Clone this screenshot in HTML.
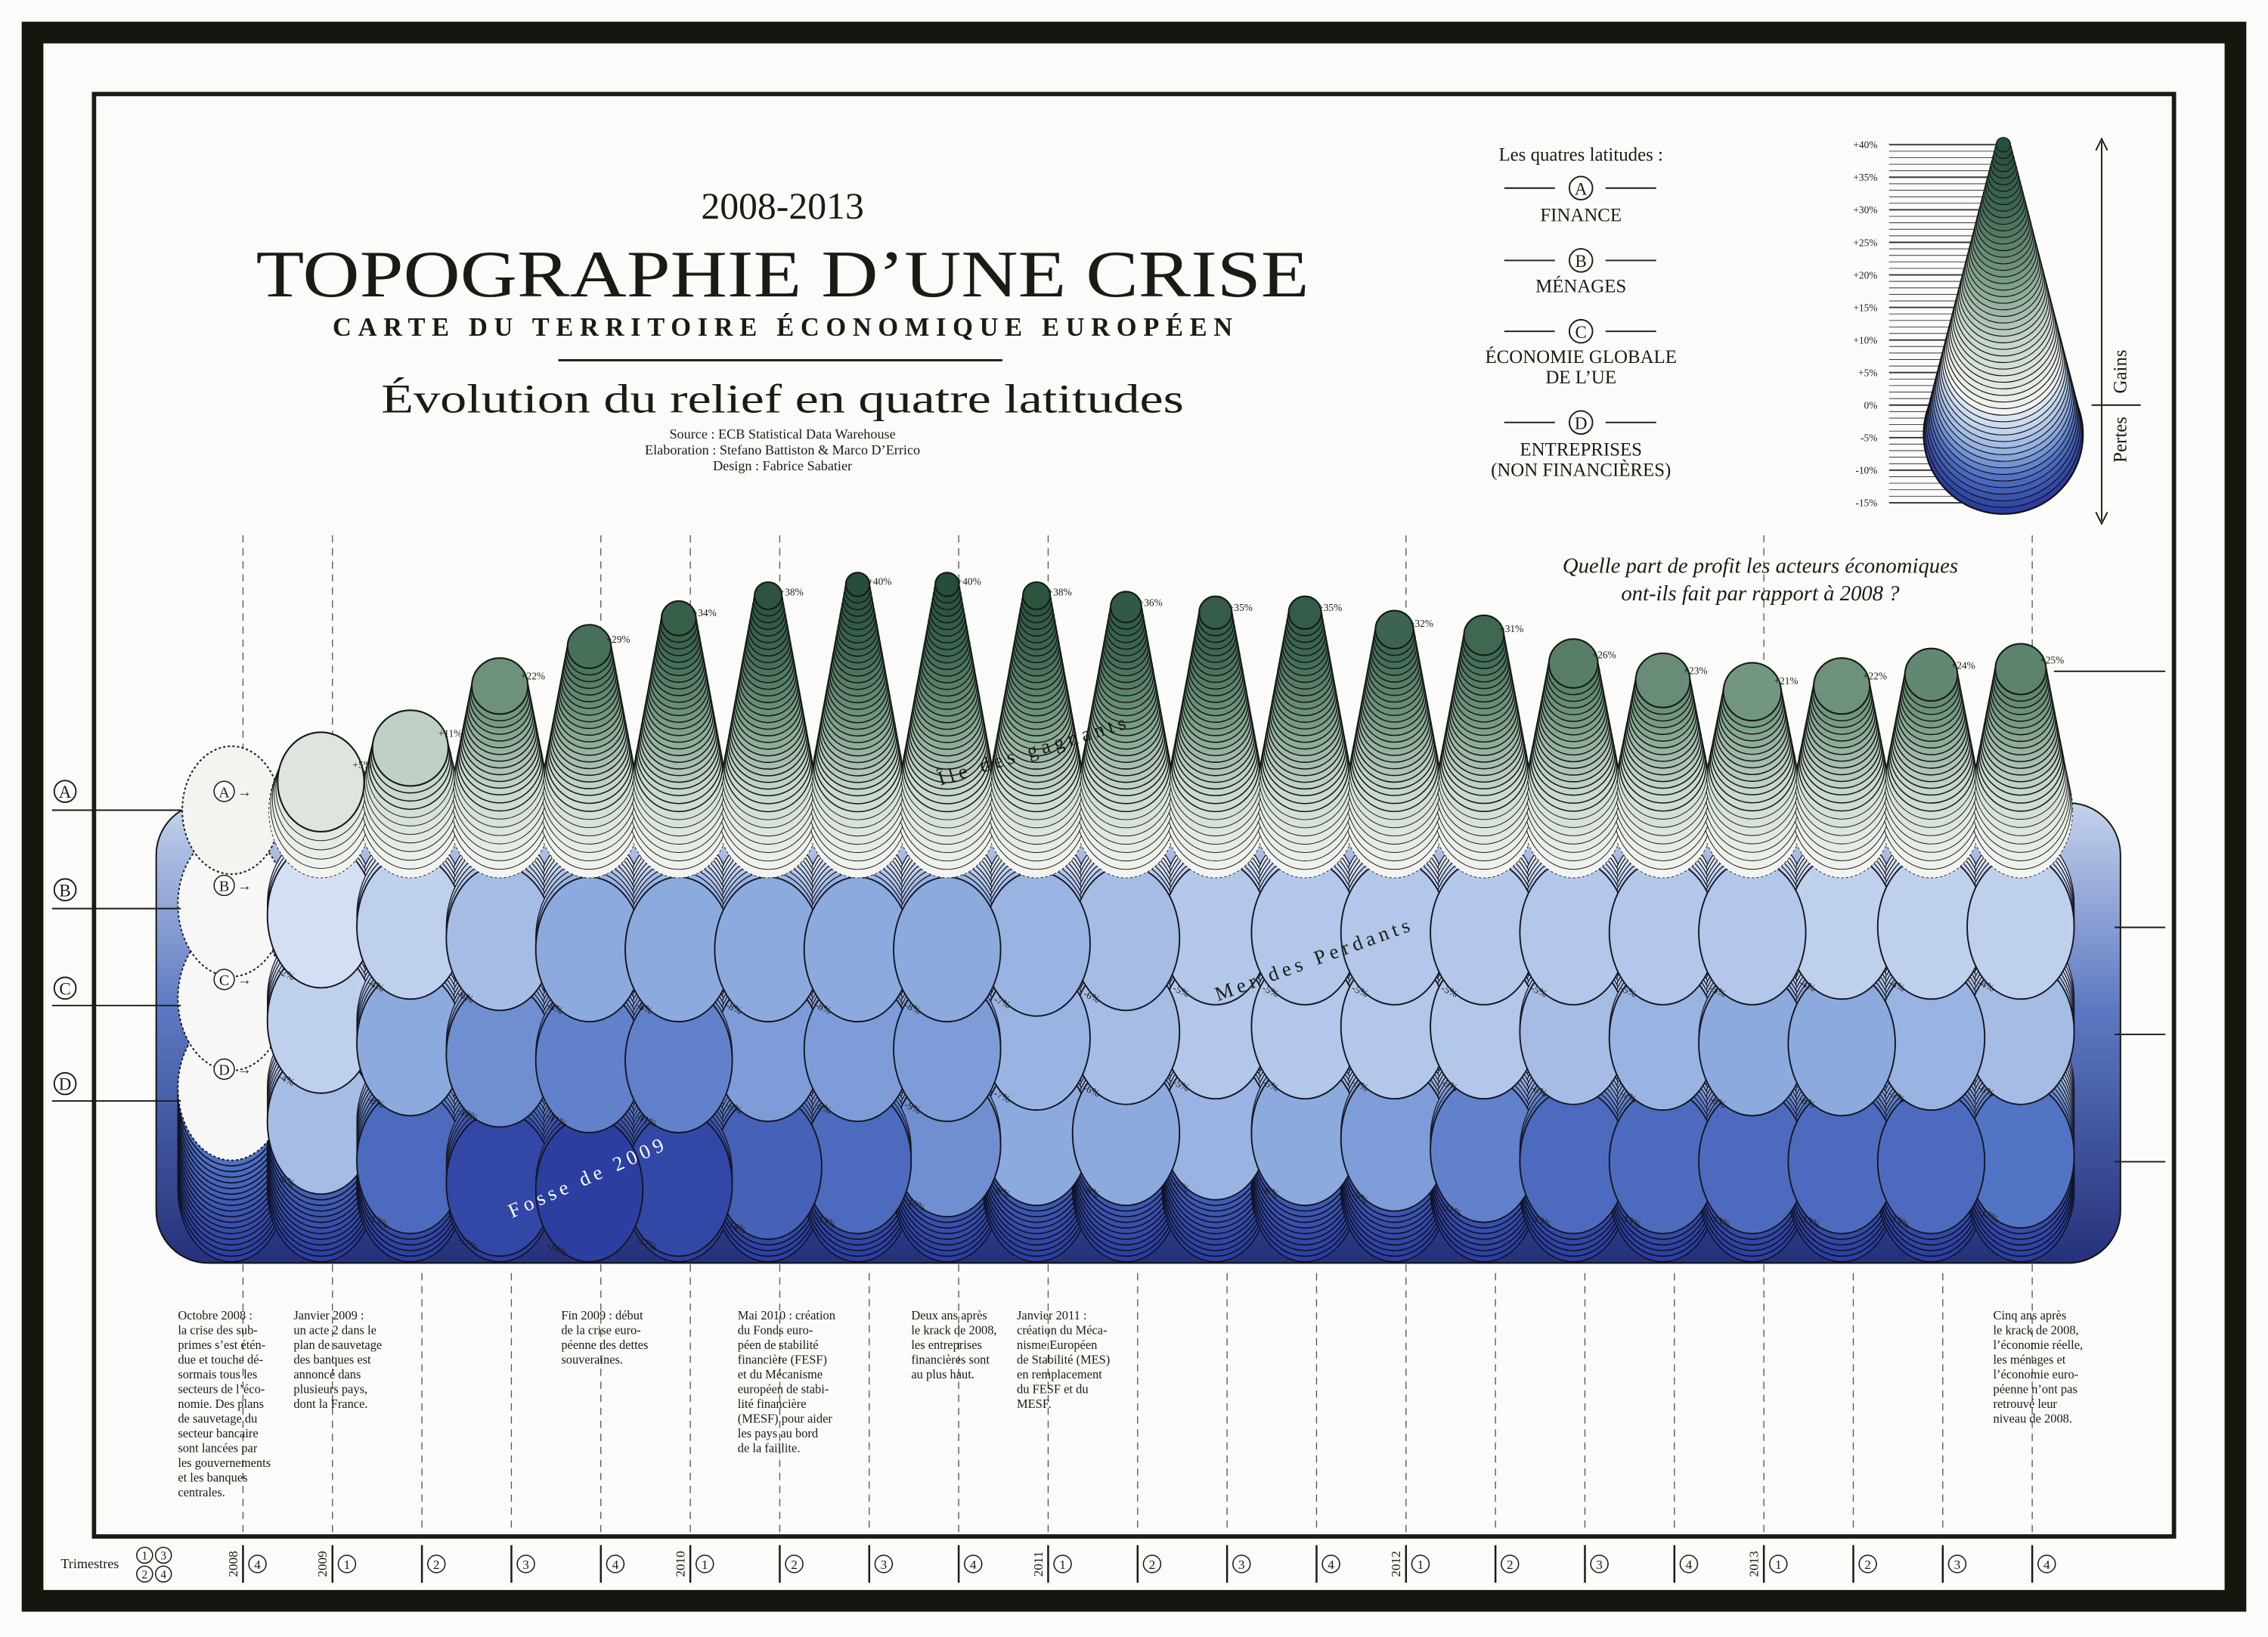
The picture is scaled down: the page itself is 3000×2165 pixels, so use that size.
<!DOCTYPE html>
<html><head><meta charset="utf-8">
<style>
html,body{margin:0;padding:0;background:#fff;}
svg{display:block;}
text{font-family:"Liberation Serif",serif;fill:#1b1b14;}
</style></head>
<body>
<svg id="chart" xmlns="http://www.w3.org/2000/svg" width="3000" height="2165" viewBox="0 0 1568 1131.5" preserveAspectRatio="none">
  <defs>
    <linearGradient id="wallGrad" x1="0" y1="0" x2="0" y2="1">
      <stop offset="0" stop-color="#c4d2ec"/>
      <stop offset="0.45" stop-color="#5d78c2"/>
      <stop offset="1" stop-color="#25317a"/>
    </linearGradient>
  </defs>
  <rect x="0" y="0" width="1568" height="1131.5" fill="#fbfbf9"/>
  <rect x="22.5" y="22.5" width="1523" height="1084" fill="none" stroke="#16160f" stroke-width="15"/>
  <rect x="65" y="65" width="1438" height="997" fill="none" stroke="#1b1b14" stroke-width="3"/>

  <g text-anchor="middle">
    <text x="541" y="151" font-size="26">2008-2013</text>
    <text x="541" y="205" font-size="46" textLength="728" lengthAdjust="spacingAndGlyphs">TOPOGRAPHIE D’UNE CRISE</text>
    <text x="541" y="232" font-size="18" font-weight="bold" textLength="622" lengthAdjust="spacing">CARTE DU TERRITOIRE ÉCONOMIQUE EUROPÉEN</text>
    <line x1="386" y1="249" x2="693" y2="249" stroke="#1b1b14" stroke-width="1.5"/>
    <text x="541" y="285" font-size="28" textLength="555" lengthAdjust="spacingAndGlyphs">Évolution du relief en quatre latitudes</text>
    <text x="541" y="303" font-size="9.5">Source : ECB Statistical Data Warehouse</text>
    <text x="541" y="314" font-size="9.5">Elaboration : Stefano Battiston &amp; Marco D’Errico</text>
    <text x="541" y="325" font-size="9.5">Design : Fabrice Sabatier</text>
  </g>

  <g text-anchor="middle" font-size="13">
    <text x="1093" y="111">Les quatres latitudes :</text>
    <g>
      <line x1="1040" y1="130" x2="1075" y2="130" stroke="#1b1b14"/><line x1="1110" y1="130" x2="1145" y2="130" stroke="#1b1b14"/>
      <circle cx="1093" cy="130" r="8" fill="none" stroke="#1b1b14"/><text x="1093" y="134.5" font-size="12">A</text>
      <text x="1093" y="153">FINANCE</text>
    </g>
    <g>
      <line x1="1040" y1="180" x2="1075" y2="180" stroke="#1b1b14"/><line x1="1110" y1="180" x2="1145" y2="180" stroke="#1b1b14"/>
      <circle cx="1093" cy="180" r="8" fill="none" stroke="#1b1b14"/><text x="1093" y="184.5" font-size="12">B</text>
      <text x="1093" y="202">MÉNAGES</text>
    </g>
    <g>
      <line x1="1040" y1="229" x2="1075" y2="229" stroke="#1b1b14"/><line x1="1110" y1="229" x2="1145" y2="229" stroke="#1b1b14"/>
      <circle cx="1093" cy="229" r="8" fill="none" stroke="#1b1b14"/><text x="1093" y="233.5" font-size="12">C</text>
      <text x="1093" y="251">ÉCONOMIE GLOBALE</text>
      <text x="1093" y="265">DE L’UE</text>
    </g>
    <g>
      <line x1="1040" y1="292" x2="1075" y2="292" stroke="#1b1b14"/><line x1="1110" y1="292" x2="1145" y2="292" stroke="#1b1b14"/>
      <circle cx="1093" cy="292" r="8" fill="none" stroke="#1b1b14"/><text x="1093" y="296.5" font-size="12">D</text>
      <text x="1093" y="315">ENTREPRISES</text>
      <text x="1093" y="329">(NON FINANCIÈRES)</text>
    </g>
  </g>

  <g id="scale-legend"></g>
  <g>
    <line x1="1453" y1="98" x2="1453" y2="360" stroke="#1b1b14" stroke-width="1"/>
    <path d="M1449,104 L1453,96 L1457,104 M1449,354 L1453,362 L1457,354" fill="none" stroke="#1b1b14"/>
    <line x1="1446" y1="280" x2="1480" y2="280" stroke="#1b1b14"/>
    <text transform="translate(1470,272) rotate(-90)" font-size="13" text-anchor="start">Gains</text>
    <text transform="translate(1470,288) rotate(-90)" font-size="13" text-anchor="end">Pertes</text>
  </g>

  <g text-anchor="middle" font-style="italic" font-size="15">
    <text x="1217" y="396">Quelle part de profit les acteurs économiques</text>
    <text x="1217" y="415">ont-ils fait par rapport à 2008 ?</text>
  </g>

  <g id="gridlines"></g>
  <g id="marks"></g>
  <g id="labels"></g>

  <g font-size="12" text-anchor="middle">
    <g><circle cx="45" cy="547" r="7.5" fill="#fff" stroke="#1b1b14"/><text x="45" y="551.5">A</text><line x1="36" y1="560" x2="125" y2="560" stroke="#1b1b14"/></g>
    <g><circle cx="45" cy="615" r="7.5" fill="#fff" stroke="#1b1b14"/><text x="45" y="619.5">B</text><line x1="36" y1="628" x2="125" y2="628" stroke="#1b1b14"/></g>
    <g><circle cx="45" cy="683" r="7.5" fill="#fff" stroke="#1b1b14"/><text x="45" y="687.5">C</text><line x1="36" y1="695" x2="125" y2="695" stroke="#1b1b14"/></g>
    <g><circle cx="45" cy="749" r="7.5" fill="#fff" stroke="#1b1b14"/><text x="45" y="753.5">D</text><line x1="36" y1="761" x2="125" y2="761" stroke="#1b1b14"/></g>
    <line x1="1420" y1="464" x2="1497" y2="464" stroke="#1b1b14"/>
    <line x1="1462" y1="641" x2="1497" y2="641" stroke="#1b1b14"/>
    <line x1="1462" y1="715" x2="1497" y2="715" stroke="#1b1b14"/>
    <line x1="1462" y1="803" x2="1497" y2="803" stroke="#1b1b14"/>
  </g>

  <g font-size="14" letter-spacing="3">
    <text transform="translate(650,543) rotate(-17)">Île des gagnants</text>
    <text transform="translate(842,692) rotate(-20)">Mer des Perdants</text>
    <text transform="translate(354,842) rotate(-24)" style="fill:#fff">Fosse de 2009</text>
  </g>

  <g font-size="8.6">
    <text x="123" y="912">
      <tspan x="123" dy="0">Octobre 2008 :</tspan><tspan x="123" dy="10.2">la crise des sub-</tspan><tspan x="123" dy="10.2">primes s’est étén-</tspan><tspan x="123" dy="10.2">due et touche dé-</tspan><tspan x="123" dy="10.2">sormais tous les</tspan><tspan x="123" dy="10.2">secteurs de l’éco-</tspan><tspan x="123" dy="10.2">nomie. Des plans</tspan><tspan x="123" dy="10.2">de sauvetage du</tspan><tspan x="123" dy="10.2">secteur bancaire</tspan><tspan x="123" dy="10.2">sont lancées par</tspan><tspan x="123" dy="10.2">les gouvernements</tspan><tspan x="123" dy="10.2">et les banques</tspan><tspan x="123" dy="10.2">centrales.</tspan>
    </text>
    <text x="203" y="912">
      <tspan x="203" dy="0">Janvier 2009 :</tspan><tspan x="203" dy="10.2">un acte 2 dans le</tspan><tspan x="203" dy="10.2">plan de sauvetage</tspan><tspan x="203" dy="10.2">des banques est</tspan><tspan x="203" dy="10.2">annoncé dans</tspan><tspan x="203" dy="10.2">plusieurs pays,</tspan><tspan x="203" dy="10.2">dont la France.</tspan>
    </text>
    <text x="388" y="912">
      <tspan x="388" dy="0">Fin 2009 : début</tspan><tspan x="388" dy="10.2">de la crise euro-</tspan><tspan x="388" dy="10.2">péenne des dettes</tspan><tspan x="388" dy="10.2">souveraines.</tspan>
    </text>
    <text x="510" y="912">
      <tspan x="510" dy="0">Mai 2010 : création</tspan><tspan x="510" dy="10.2">du Fonds euro-</tspan><tspan x="510" dy="10.2">péen de stabilité</tspan><tspan x="510" dy="10.2">financière (FESF)</tspan><tspan x="510" dy="10.2">et du Mécanisme</tspan><tspan x="510" dy="10.2">européen de stabi-</tspan><tspan x="510" dy="10.2">lité financière</tspan><tspan x="510" dy="10.2">(MESF) pour aider</tspan><tspan x="510" dy="10.2">les pays au bord</tspan><tspan x="510" dy="10.2">de la faillite.</tspan>
    </text>
    <text x="630" y="912">
      <tspan x="630" dy="0">Deux ans après</tspan><tspan x="630" dy="10.2">le krack de 2008,</tspan><tspan x="630" dy="10.2">les entreprises</tspan><tspan x="630" dy="10.2">financières sont</tspan><tspan x="630" dy="10.2">au plus haut.</tspan>
    </text>
    <text x="703" y="912">
      <tspan x="703" dy="0">Janvier 2011 :</tspan><tspan x="703" dy="10.2">création du Méca-</tspan><tspan x="703" dy="10.2">nisme Européen</tspan><tspan x="703" dy="10.2">de Stabilité (MES)</tspan><tspan x="703" dy="10.2">en remplacement</tspan><tspan x="703" dy="10.2">du FESF et du</tspan><tspan x="703" dy="10.2">MESF.</tspan>
    </text>
    <text x="1378" y="912">
      <tspan x="1378" dy="0">Cinq ans après</tspan><tspan x="1378" dy="10.2">le krack de 2008,</tspan><tspan x="1378" dy="10.2">l’économie réelle,</tspan><tspan x="1378" dy="10.2">les ménages et</tspan><tspan x="1378" dy="10.2">l’économie euro-</tspan><tspan x="1378" dy="10.2">péenne n’ont pas</tspan><tspan x="1378" dy="10.2">retrouvé leur</tspan><tspan x="1378" dy="10.2">niveau de 2008.</tspan>
    </text>
  </g>

  <g id="axis">
    <text x="42" y="1084" font-size="9.5">Trimestres</text>
    <g font-size="8" text-anchor="middle">
      <circle cx="100" cy="1075" r="5.5" fill="none" stroke="#1b1b14" stroke-width="0.8"/><text x="100" y="1078">1</text>
      <circle cx="113" cy="1075" r="5.5" fill="none" stroke="#1b1b14" stroke-width="0.8"/><text x="113" y="1078">3</text>
      <circle cx="100" cy="1088" r="5.5" fill="none" stroke="#1b1b14" stroke-width="0.8"/><text x="100" y="1091">2</text>
      <circle cx="113" cy="1088" r="5.5" fill="none" stroke="#1b1b14" stroke-width="0.8"/><text x="113" y="1091">4</text>
    </g>
  </g>
</svg>
<script>
const quarterYears = [2008,2009,2009,2009,2009,2010,2010,2010,2010,2011,2011,2011,2011,2012,2012,2012,2012,2013,2013,2013,2013];
const quarterNums  = [4,1,2,3,4,1,2,3,4,1,2,3,4,1,2,3,4,1,2,3,4];
const finance     = [0,5,11,22,29,34,38,40,40,38,36,35,35,32,31,26,23,21,22,24,25];
const menages     = [0,-2,-4,-6,-8,-8,-8,-8,-8,-7,-6,-5,-5,-5,-5,-5,-5,-5,-4,-4,-4];
const economie    = [0,-4,-8,-10,-11,-11,-9,-9,-9,-7,-6,-5,-5,-5,-5,-6,-7,-8,-8,-7,-6];
const entreprises = [0,-6,-13,-17,-18,-17,-14,-13,-10,-8,-8,-7,-8,-9,-11,-13,-13,-13,-13,-13,-12];
const scaleTicks  = [40,35,30,25,20,15,10,5,0,-5,-10,-15];

const NS = 'http://www.w3.org/2000/svg';
function mk(tag, attrs){ const el = document.createElementNS(NS, tag); for (const k in attrs) el.setAttribute(k, attrs[k]); return el; }
const marks = document.getElementById('marks');
const labels = document.getElementById('labels');
const grid = document.getElementById('gridlines');
const axis = document.getElementById('axis');
const legend = document.getElementById('scale-legend');

const x0 = 160, dx = 61.85, K = 3.9;
function xCol(i){ return x0 + i*dx; }
function xBar(i){ return 168 + i*61.85; }
const rowBase = {A:560, B:625, C:690, D:752};
function yElev(row, e){ return rowBase[row] - e*K; }

function lerpColor(stops, t){
  t = Math.max(0, Math.min(stops[stops.length-1][0], t));
  for (let i=0;i<stops.length-1;i++){
    const a=stops[i], b=stops[i+1];
    if (t<=b[0]){ const f=(t-a[0])/(b[0]-a[0]);
      const c=[0,1,2].map(j=>Math.round(a[1][j]+(b[1][j]-a[1][j])*f));
      return 'rgb('+c.join(',')+')'; }
  }
  const l=stops[stops.length-1][1]; return 'rgb('+l.join(',')+')';
}
const greenStops = [[0,[243,244,240]],[10,[200,214,204]],[20,[120,155,133]],[30,[66,106,85]],[40,[38,78,58]]];
const blueStops  = [[0,[232,238,247]],[4,[190,208,236]],[8,[140,170,222]],[12,[82,116,196]],[18,[44,62,160]]];

const fullLines = [0,1,4,5,6,8,9,13,17,20];
for (let i=0;i<quarterYears.length;i++){
  const top = fullLines.includes(i) ? 370 : 880;
  const l = mk('line',{x1:xBar(i),y1:top,x2:xBar(i),y2:1060,stroke:'#555',"stroke-width":0.7,"stroke-dasharray":'5,4'});
  
  
  grid.appendChild(l);
}

// side walls
const slab = mk('rect',{x:108,y:555,width:1358,height:318,rx:36,fill:'url(#wallGrad)',stroke:'#111',"stroke-width":1});


marks.appendChild(slab);

const RX = 37, RY = 50;
// base stack under row D: dark bottom layers down to the floor
const floorDepth = 18;
entreprises.forEach((v,i)=>{
  for (let d=floorDepth; d>-v; d--){
    const c = mk('ellipse',{cx:xCol(i),cy:rowBase.D+d*K,rx:RX,ry:RY,
      fill: lerpColor(blueStops, 12 + d/3), stroke:'#10142a', "stroke-width":0.9});
    
    
    marks.appendChild(c);
  }
});

const negRows = [['D',entreprises],['C',economie],['B',menages]];
negRows.forEach(([row, vals])=>{
  const maxD = Math.max(...vals.map(v=>-v));
  for (let d=0; d<=maxD; d++){
    vals.forEach((v,i)=>{
      const depth = -v;
      if (d>depth) return;
      const isFace = d===depth;
      const c = mk('ellipse',{cx:xCol(i),cy:rowBase[row]+d*K,rx:RX,ry:RY,
        fill: depth===0 ? '#f7f7f5' : lerpColor(blueStops,d),
        stroke: isFace ? '#151520' : '#1b1b2a',
        "stroke-width": isFace ? 1 : 0.7});
      if (depth===0) c.setAttribute('stroke-dasharray','1.6,1.6');
      
      
      marks.appendChild(c);
    });
  }
  vals.forEach((v,i)=>{
    if (v===0) return;
    const lx = xCol(i)-30, ly = rowBase[row]-v*K+40;
    const t = mk('text',{x:lx,y:ly,"font-size":7,transform:'rotate(25 '+lx+' '+ly+')'});
    t.textContent = v+'%';
    
    
    labels.appendChild(t);
  });
});

const maxA = Math.max(...finance);
function radiusA(v, e){ const r0=36, rTop = 33 - v*0.62; return v===0 ? 34 : r0 - (r0-rTop)*(e/v); }
for (let e=0; e<=maxA; e++){
  finance.forEach((v,i)=>{
    if (e>v) return;
    const isCap = e===v;
    const r = radiusA(v,e);
    const c = mk('ellipse',{cx:xCol(i),cy:yElev('A',e),rx:r,ry:r*(1.3-0.3*Math.min(1,e/10)),
      fill: lerpColor(greenStops,e),
      stroke: e===0 ? '#222' : '#141a16',
      "stroke-width": isCap ? 1.1 : (e<8 ? 0.5 : 0.8)});
    if (e===0) c.setAttribute('stroke-dasharray','1.6,1.6');
    
    
    marks.appendChild(c);
  });
}
finance.forEach((v,i)=>{
  if (v===0) return;
  const r = radiusA(v,v);
  const tx = xCol(i)+r*0.7+1, ty = yElev('A',v)-r*0.45+4;
  const t = mk('text',{x:tx,y:ty,"font-size":7});
  t.textContent = '+'+v+'%';
  
  
  labels.appendChild(t);
});

['A','B','C','D'].forEach(row=>{
  const cy = rowBase[row]-13;
  const c = mk('circle',{cx:xCol(0)-5,cy:cy,r:7,fill:'#fff',stroke:'#1b1b14',"stroke-width":0.8});
  
  
  labels.appendChild(c);
  const t = mk('text',{x:xCol(0)-5,y:cy+4,"font-size":10.5,"text-anchor":'middle'});
  t.textContent = row;
  
  
  labels.appendChild(t);
  const a = mk('text',{x:xCol(0)+4,y:cy+3.5,"font-size":10});
  a.textContent = '→';
  
  
  labels.appendChild(a);
});

function yScale(e){ return 100 + (40-e)*4.5; }
for (let e=40; e>=-15; e--){
  const l = mk('line',{x1:1306,y1:yScale(e),x2:1380,y2:yScale(e),stroke:'#333',"stroke-width": e%5===0 ? 1 : 0.5});
  
  
  legend.appendChild(l);
}
scaleTicks.forEach(e=>{
  const t = mk('text',{x:1298,y:yScale(e)+2.5,"font-size":7,"text-anchor":'end'});
  t.textContent = (e>0?'+':'')+e+'%';
  
  
  legend.appendChild(t);
});
for (let e=-15; e<=40; e++){
  const r = 5 + (40-e)*0.91;
  const cy = 100 + (40-e)*3.64;
  const c = mk('circle',{cx:1385,cy:cy,r:r,
    fill: e>=0 ? lerpColor(greenStops,e) : lerpColor(blueStops,-e*1.2),
    stroke:'#121212',"stroke-width": e===-15 ? 1.2 : 0.6});
  
  
  legend.appendChild(c);
}

for (let i=0;i<quarterNums.length;i++){
  const xb = xBar(i);
  const l = mk('line',{x1:xb,y1:1068,x2:xb,y2:1094,stroke:'#1b1b14',"stroke-width":1.3});
  
  
  axis.appendChild(l);
  const c = mk('circle',{cx:xb+10,cy:1081,r:6,fill:'none',stroke:'#1b1b14',"stroke-width":0.8});
  
  
  axis.appendChild(c);
  const t = mk('text',{x:xb+10,y:1084.5,"font-size":9,"text-anchor":'middle'});
  t.textContent = quarterNums[i];
  
  
  axis.appendChild(t);
  if (i===0 || quarterYears[i]!==quarterYears[i-1]){
    const y = mk('text',{x:0,y:0,"font-size":9,"text-anchor":'middle',transform:'translate('+(xb-4)+',1081) rotate(-90)'});
    y.textContent = quarterYears[i];
    
    
    axis.appendChild(y);
  }
}
</script>
</body></html>
